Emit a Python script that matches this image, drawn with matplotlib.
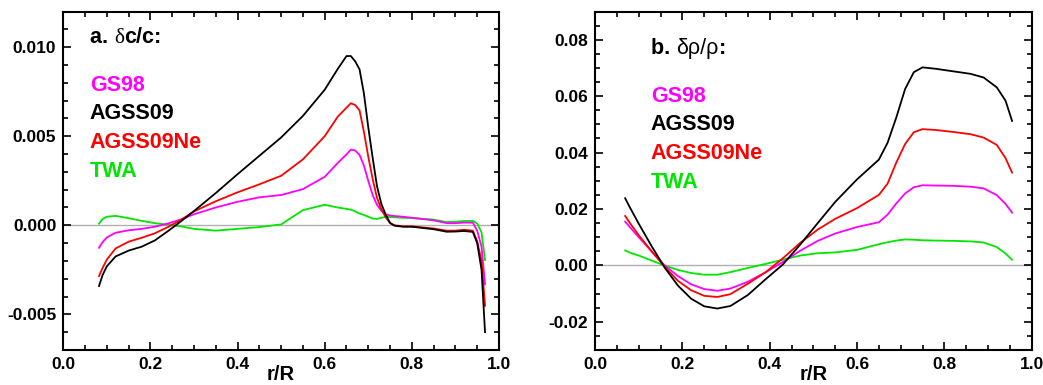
import numpy as np
import matplotlib
matplotlib.use("Agg")
import matplotlib.pyplot as plt
from matplotlib.ticker import MultipleLocator, FormatStrFormatter

plt.rcParams['font.family'] = ['Liberation Sans', 'DejaVu Sans']
plt.rcParams['axes.unicode_minus'] = False

# panel a: sound speed differences (units of 1e-3)
r_a = [0.082, 0.09, 0.10, 0.12, 0.15, 0.18, 0.21, 0.24, 0.27, 0.30, 0.35, 0.40,
       0.45, 0.50, 0.55, 0.60, 0.63, 0.65, 0.66, 0.67, 0.68, 0.69, 0.70, 0.71,
       0.72, 0.73, 0.74, 0.75, 0.76, 0.78, 0.80, 0.85, 0.88, 0.90, 0.92, 0.94,
       0.95, 0.96, 0.968]
dc_gs98 = [-1.26, -0.95, -0.68, -0.42, -0.28, -0.20, -0.08, 0.10, 0.33, 0.62, 1.00, 1.32,
           1.57, 1.70, 2.03, 2.72, 3.50, 3.98, 4.25, 4.20, 3.95, 3.35, 2.50, 1.70,
           1.15, 0.82, 0.62, 0.55, 0.52, 0.48, 0.42, 0.28, 0.12, 0.12, 0.15, 0.15,
           -0.30, -1.20, -3.31]
dc_agss09 = [-3.41, -2.80, -2.30, -1.75, -1.42, -1.20, -0.85, -0.33, 0.22, 0.80, 1.81, 2.87,
             3.90, 4.93, 6.14, 7.61, 8.78, 9.50, 9.50, 9.20, 8.75, 7.40, 5.50, 3.80,
             2.20, 1.20, 0.60, 0.13, -0.02, -0.08, -0.08, -0.22, -0.36, -0.35, -0.32, -0.37,
             -1.00, -2.50, -6.00]
dc_agss09ne = [-2.85, -2.40, -1.92, -1.30, -0.92, -0.70, -0.45, -0.10, 0.30, 0.78, 1.35, 1.85,
               2.30, 2.78, 3.70, 5.00, 6.10, 6.60, 6.85, 6.75, 6.45, 5.25, 3.85, 2.60,
               1.55, 0.90, 0.45, 0.13, 0.00, -0.06, -0.06, -0.18, -0.30, -0.30, -0.25, -0.30,
               -0.90, -2.00, -4.52]
dc_twa = [0.09, 0.35, 0.48, 0.53, 0.40, 0.25, 0.12, 0.03, -0.06, -0.20, -0.30, -0.20,
          -0.10, 0.05, 0.85, 1.15, 1.00, 0.92, 0.88, 0.78, 0.66, 0.58, 0.48, 0.38,
          0.36, 0.42, 0.47, 0.46, 0.45, 0.42, 0.41, 0.32, 0.18, 0.20, 0.24, 0.25,
          0.10, -0.40, -1.95]

# panel b: density differences (units of 1e-2)
r_b = [0.069, 0.08, 0.10, 0.13, 0.16, 0.19, 0.22, 0.25, 0.28, 0.31, 0.35, 0.39,
       0.43, 0.47, 0.51, 0.55, 0.60, 0.65, 0.67, 0.69, 0.71, 0.73, 0.75, 0.78,
       0.82, 0.86, 0.89, 0.92, 0.94, 0.955]
drho_gs98 = [1.55, 1.35, 1.00, 0.49, -0.01, -0.38, -0.67, -0.84, -0.90, -0.82, -0.58, -0.25,
             0.12, 0.52, 0.87, 1.13, 1.36, 1.53, 1.80, 2.20, 2.55, 2.77, 2.84, 2.83,
             2.82, 2.79, 2.73, 2.49, 2.18, 1.87]
drho_agss09 = [2.38, 2.05, 1.48, 0.67, -0.09, -0.72, -1.18, -1.45, -1.53, -1.44, -1.05, -0.50,
               0.03, 0.74, 1.50, 2.25, 3.05, 3.75, 4.35, 5.25, 6.25, 6.85, 7.02, 6.97,
               6.88, 6.79, 6.66, 6.31, 5.84, 5.12]
drho_agss09ne = [1.75, 1.50, 1.07, 0.49, -0.06, -0.55, -0.88, -1.08, -1.12, -1.02, -0.65, -0.25,
                 0.25, 0.80, 1.27, 1.65, 2.03, 2.50, 2.90, 3.65, 4.30, 4.72, 4.83, 4.80,
                 4.73, 4.65, 4.53, 4.27, 3.80, 3.29]
drho_twa = [0.53, 0.45, 0.35, 0.17, -0.01, -0.16, -0.27, -0.33, -0.33, -0.24, -0.09, 0.05,
            0.20, 0.35, 0.43, 0.46, 0.55, 0.75, 0.82, 0.88, 0.92, 0.91, 0.89, 0.88,
            0.87, 0.85, 0.81, 0.65, 0.42, 0.20]

names = ['GS98', 'AGSS09', 'AGSS09Ne', 'TWA']
colors = ['#ff00ff', '#000000', '#ff0000', '#00e600']

fig = plt.figure(figsize=(10.43, 3.85), dpi=100)
ax1 = fig.add_axes([0.0607, 0.0909, 0.4177, 0.8792])
ax2 = fig.add_axes([0.5705, 0.0909, 0.4187, 0.8792])

series_a = [dc_gs98, dc_agss09, dc_agss09ne, dc_twa]
series_b = [drho_gs98, drho_agss09, drho_agss09ne, drho_twa]

ax1.axhline(0, color='#b0b0b0', lw=1.0, zorder=1)
ax2.axhline(0, color='#b0b0b0', lw=1.0, zorder=1)
# draw in order so black/red sit on top like the original
for i in [3, 0, 2, 1]:
    ax1.plot(r_a, np.array(series_a[i]) * 1e-3, color=colors[i], lw=1.3, zorder=3)
    ax2.plot(r_b, np.array(series_b[i]) * 1e-2, color=colors[i], lw=1.3, zorder=3)

ax1.set_ylim(-0.007, 0.012)
ax1.yaxis.set_major_locator(MultipleLocator(0.005))
ax1.yaxis.set_minor_locator(MultipleLocator(0.001))
ax1.yaxis.set_major_formatter(FormatStrFormatter('%.3f'))

ax2.set_ylim(-0.03, 0.09)
ax2.yaxis.set_major_locator(MultipleLocator(0.02))
ax2.yaxis.set_minor_locator(MultipleLocator(0.005))
ax2.yaxis.set_major_formatter(FormatStrFormatter('%.2f'))

for ax in (ax1, ax2):
    ax.set_xlim(0.0, 1.0)
    ax.xaxis.set_major_locator(MultipleLocator(0.2))
    ax.xaxis.set_minor_locator(MultipleLocator(0.05))
    ax.xaxis.set_major_formatter(FormatStrFormatter('%.1f'))
    ax.tick_params(which='both', direction='in', top=True, right=True, width=1.2)
    ax.tick_params(which='major', length=6, labelsize=12.5, pad=5)
    ax.tick_params(which='minor', length=3.3)
    for lab in ax.get_xticklabels() + ax.get_yticklabels():
        lab.set_fontweight('bold')
    for sp in ax.spines.values():
        sp.set_linewidth(1.5)
    ax.set_xlabel('r/R', fontsize=14.5, fontweight='bold', labelpad=-5)

# panel titles: bold prefix then thin greek part
t1 = ax1.text(0.061, 0.908, 'a. ', transform=ax1.transAxes, fontsize=15.5, fontweight='bold')
t1b = ax1.annotate('\u03b4', xy=(1, 0), xycoords=t1, fontsize=15.5, va='bottom',
                   family=['Liberation Serif', 'DejaVu Serif'])
ax1.annotate('c/c:', xy=(1, 0), xycoords=t1b, fontsize=15.5, fontweight='bold', va='bottom')

t2 = ax2.text(0.128, 0.873, 'b. ', transform=ax2.transAxes, fontsize=15.5, fontweight='bold')
t2b = ax2.annotate('\u03b4\u03c1/\u03c1', xy=(1, 0), xycoords=t2, fontsize=15.5, va='bottom')
ax2.annotate(':', xy=(1, 0), xycoords=t2b, fontsize=15.5, fontweight='bold', va='bottom')

ya = [0.766, 0.682, 0.598, 0.512]
yb = [0.7325, 0.649, 0.565, 0.480]
for i in range(4):
    ax1.text(0.061, ya[i], names[i], transform=ax1.transAxes, color=colors[i],
             fontsize=15.5, fontweight='bold')
    ax2.text(0.128, yb[i], names[i], transform=ax2.transAxes, color=colors[i],
             fontsize=15.5, fontweight='bold')

fig.savefig('out.png', dpi=100)
